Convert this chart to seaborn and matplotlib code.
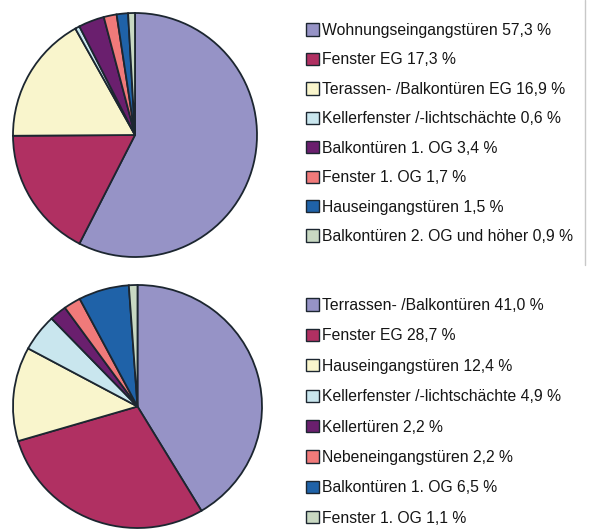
import matplotlib
matplotlib.use("Agg")
import matplotlib.pyplot as plt
import seaborn as sns
from matplotlib.patches import Patch
from matplotlib.lines import Line2D

# ---- data ----
top_labels = ["Wohnungseingangstüren 57,3 %", "Fenster EG 17,3 %",
              "Terassen- /Balkontüren EG 16,9 %", "Kellerfenster /-lichtschächte 0,6 %",
              "Balkontüren 1. OG 3,4 %", "Fenster 1. OG 1,7 %",
              "Hauseingangstüren 1,5 %", "Balkontüren 2. OG und höher 0,9 %"]
top_values = [57.3, 17.3, 16.9, 0.6, 3.4, 1.7, 1.5, 0.9]

bottom_labels = ["Terrassen- /Balkontüren 41,0 %", "Fenster EG 28,7 %",
                 "Hauseingangstüren 12,4 %", "Kellerfenster /-lichtschächte 4,9 %",
                 "Kellertüren 2,2 %", "Nebeneingangstüren 2,2 %",
                 "Balkontüren 1. OG 6,5 %", "Fenster 1. OG 1,1 %"]
bottom_values = [41.0, 28.7, 12.4, 4.9, 2.2, 2.2, 6.5, 1.1]

colors = ["#9693C6", "#B03062", "#F9F5CC", "#C9E6EE",
          "#6A1F6E", "#F07A7A", "#1F62A8", "#C8D8C2"]

sns.set_theme(style="white")
plt.rcParams['font.family'] = ['Liberation Sans', 'DejaVu Sans']
palette = sns.color_palette(colors)

W, H = 591, 532
fig = plt.figure(figsize=(W / 100, H / 100), dpi=100)
fig.patch.set_facecolor("white")

edge = "#1c2630"
fs = 11.3


def draw(values, labels, box, legend_top, spacing):
    x0, y0, x1, y1 = box  # pixel box (top-left origin)
    ax = fig.add_axes([x0 / W, 1 - y1 / H, (x1 - x0) / W, (y1 - y0) / H])
    wedges, _ = ax.pie(values, colors=palette, startangle=90, counterclock=False,
                       radius=1.0,
                       wedgeprops=dict(edgecolor=edge, linewidth=1.3))
    for w in wedges:
        w.set_clip_on(False)
    ax.set_xlim(-1, 1)
    ax.set_ylim(-1, 1)
    ax.set_aspect("auto")
    ax.axis("off")
    handles = [Patch(facecolor=c, edgecolor=edge, linewidth=1.0) for c in palette]
    fig.legend(handles, labels, loc="upper left",
               bbox_to_anchor=(306 / W, 1 - legend_top / H),
               frameon=False, fontsize=fs, borderpad=0, borderaxespad=0,
               handlelength=0.83, handleheight=0.83, handletextpad=0.2,
               labelspacing=spacing, labelcolor="#151515")


draw(top_values, top_labels, (13, 13, 257, 257), 23, 0.92)
draw(bottom_values, bottom_labels, (13, 285, 262, 528), 298, 0.98)

# thin frame line at right of top panel
fig.add_artist(Line2D([585 / W, 585 / W], [1 - 265 / H, 1.0],
                      transform=fig.transFigure, color="#c8c8c8", linewidth=1.0))

fig.savefig("out.png", dpi=100, facecolor="white")
